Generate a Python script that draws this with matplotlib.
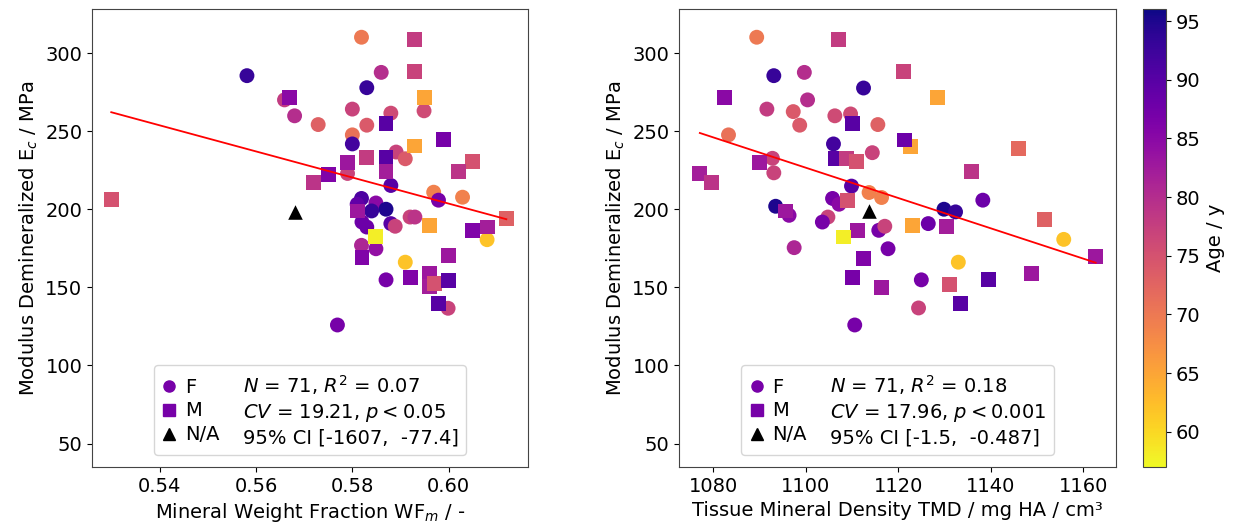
import numpy as np
import matplotlib
matplotlib.use('Agg')
import matplotlib.pyplot as plt
from matplotlib.lines import Line2D

# ---- left panel: mineral weight fraction
wf = [0.5581, 0.5659, 0.5669, 0.5680, 0.5729, 0.5750, 0.5720, 0.5299, 0.5680, 0.5819,
      0.5930, 0.5860, 0.5930, 0.5830, 0.5950, 0.5800, 0.5880, 0.5949, 0.5830, 0.5870,
      0.5800, 0.5800, 0.5990, 0.5930, 0.5830, 0.5870, 0.5891, 0.5910, 0.5790, 0.6050,
      0.6020, 0.5790, 0.5870, 0.5880, 0.5969, 0.6029, 0.5979, 0.6120, 0.5819, 0.5810,
      0.5849, 0.5870, 0.5840, 0.5810, 0.5920, 0.5930, 0.5960, 0.6050, 0.6080, 0.6080,
      0.5820, 0.5830, 0.5880, 0.5889, 0.5849, 0.5819, 0.5820, 0.5849, 0.5910, 0.5870,
      0.5920, 0.5960, 0.5960, 0.5971, 0.5999, 0.5999, 0.5979, 0.5999, 0.5769]
e_wf = [285.5, 270.0, 271.8, 259.8, 254.2, 222.3, 216.9, 206.2, 198.3, 310.1,
        308.6, 287.6, 288.0, 277.8, 271.3, 264.1, 261.5, 263.0, 253.8, 254.6,
        247.6, 241.8, 244.8, 240.5, 233.2, 233.0, 236.6, 232.3, 229.9, 230.6,
        224.4, 222.9, 224.0, 215.2, 210.9, 207.7, 205.8, 194.0, 206.9, 203.2,
        204.0, 200.0, 198.9, 198.9, 195.0, 195.0, 189.7, 186.5, 188.6, 180.5,
        191.8, 188.6, 190.8, 189.1, 182.6, 176.9, 169.0, 174.7, 166.1, 154.8,
        156.1, 159.1, 150.5, 152.2, 154.2, 170.2, 139.4, 136.6, 125.9]
age_wf = [93, 78, 85, 80, 73, 86, 79, 75, np.nan, 70,
          78, 80, 77, 93, 65, 77, 76, 76, 74, 90,
          71, 92, 87, 65, 78, 90, 77, 74, 83, 75,
          79, 77, 82, 90, 69, 69, 87, 73, 91, 89,
          85, 95, 93, 83, 77, 79, 65, 86, 82, 62,
          88, 88, 90, 77, 58, 81, 86, 84, 62, 87,
          86, 83, 82, 75, 90, 83, 90, 77, 87]
sex_wf = list('CCSCCSSSTC' 'SCSCSCCCCS' 'CCSSSSCCSS' 'SCSCCCCSCC'
              'CCCSCCSSSC' 'CCCCSCSCCC' 'SSSSSSSCC')

# ---- right panel: tissue mineral density
tmd = [1089.4, 1107.0, 1093.1, 1099.7, 1112.5, 1121.1, 1082.5, 1091.6, 1100.4, 1097.3,
       1098.7, 1106.3, 1109.7, 1110.1, 1115.6, 1083.3, 1106.0, 1122.6, 1121.4, 1090.0,
       1092.8, 1093.1, 1106.5, 1108.9, 1111.0, 1114.4, 1077.1, 1079.7, 1109.9, 1113.7,
       1116.4, 1105.8, 1107.2, 1109.0, 1113.7, 1093.5, 1095.7, 1096.4, 1104.8, 1103.6,
       1111.2, 1115.8, 1117.1, 1108.1, 1123.1, 1097.5, 1117.8, 1112.4, 1110.2, 1116.4,
       1110.6, 1128.5, 1146.0, 1135.9, 1138.3, 1129.9, 1132.4, 1130.5, 1126.5, 1151.6,
       1155.8, 1162.7, 1133.0, 1125.0, 1131.0, 1139.5, 1148.9, 1124.4, 1133.5]
e_tmd = [310.1, 308.6, 285.5, 287.6, 277.6, 287.9, 271.8, 264.1, 270.0, 262.5,
         253.8, 259.8, 261.0, 254.6, 254.2, 247.6, 241.8, 240.0, 244.3, 229.9,
         232.6, 223.3, 232.6, 232.6, 230.4, 236.2, 222.9, 216.9, 214.8, 210.7,
         207.5, 206.9, 203.2, 205.8, 198.7, 201.9, 198.9, 196.1, 195.0, 191.8,
         186.1, 186.5, 189.1, 182.2, 189.3, 175.4, 174.7, 168.7, 156.1, 149.7,
         125.9, 271.3, 238.6, 224.4, 205.8, 200.0, 198.3, 189.1, 190.8, 193.6,
         180.7, 169.8, 166.1, 154.8, 151.8, 154.9, 158.7, 136.8, 139.4]
age_tmd = [70, 78, 93, 80, 93, 77, 85, 78, 80, 74,
           74, 76, 76, 90, 73, 71, 92, 65, 88, 83,
           77, 77, 90, 78, 75, 77, 82, 79, 90, 69,
           69, 87, 85, 75, np.nan, 95, 83, 85, 77, 87,
           83, 87, 77, 58, 65, 81, 87, 86, 87, 83,
           87, 65, 72, 79, 88, 95, 93, 82, 88, 73,
           62, 83, 62, 87, 75, 90, 83, 77, 90]
sex_tmd = list('CSCCCSSCCC' 'CCCSCCCSSS' 'CCSSSCSSCC' 'CCCSTCSCCC'
               'SCCSSCCSSS' 'CSSSCCCSCS' 'CSCCSSSCS')

# regression lines (slope, intercept)
fit_wf = (-834.3, 704.2)
fit_tmd = (-0.970, 1293.6)

stats_wf = ['$N$ = 71, $R^2$ = 0.07', '$CV$ = 19.21, $p < 0.05$', '95% CI [-1607,  -77.4]']
stats_tmd = ['$N$ = 71, $R^2$ = 0.18', '$CV$ = 17.96, $p < 0.001$', '95% CI [-1.5,  -0.487]']

FS = 14
VMIN, VMAX = 57, 96
CMAP = 'plasma_r'


def panel(ax, x, e, age, sex, fit, stats, xlabel, xlim):
    x = np.array(x)
    e = np.array(e)
    age = np.array(age, dtype=float)
    sex = np.array(sex)
    sc = None
    for s, m in [('C', 'o'), ('S', 's')]:
        k = sex == s
        sc = ax.scatter(x[k], e[k], c=age[k], cmap=CMAP, vmin=VMIN, vmax=VMAX,
                        marker=m, s=115, linewidths=0, zorder=2)
    k = sex == 'T'
    ax.scatter(x[k], e[k], c='k', marker='^', s=110, linewidths=0, zorder=2)
    xx = np.array([x.min(), x.max()])
    ax.plot(xx, fit[0] * xx + fit[1], color='red', lw=1.3, zorder=3)

    ax.set_xlim(*xlim)
    ax.set_ylim(35, 328)
    ax.set_yticks([50, 100, 150, 200, 250, 300])
    ax.set_xlabel(xlabel, fontsize=FS)
    ax.set_ylabel('Modulus Demineralized E$_c$ / MPa', fontsize=FS)
    ax.tick_params(labelsize=FS)
    for sp in ax.spines.values():
        sp.set_color('#444444')

    purple = plt.get_cmap(CMAP)((87 - VMIN) / (VMAX - VMIN))
    blank = Line2D([], [], linestyle='none')
    handles = [Line2D([], [], linestyle='none', marker='o', color=purple, markersize=8),
               Line2D([], [], linestyle='none', marker='s', color=purple, markersize=8),
               Line2D([], [], linestyle='none', marker='^', color='k', markersize=8),
               blank, blank, blank]
    labels = ['F', 'M', 'N/A'] + stats
    ax.legend(handles, labels, ncol=2, loc='lower center', fontsize=FS,
              handlelength=0.8, handletextpad=0.4, columnspacing=0.0,
              labelspacing=0.25, borderaxespad=0.6)
    return sc


fig = plt.figure(figsize=(12.4, 5.3), dpi=100)
ax1 = fig.add_axes([0.0742, 0.1189, 0.3516, 0.8636])
ax2 = fig.add_axes([0.5476, 0.1189, 0.3524, 0.8636])
cax = fig.add_axes([0.9218, 0.1189, 0.0185, 0.8636])

panel(ax1, wf, e_wf, age_wf, sex_wf, fit_wf, stats_wf,
      'Mineral Weight Fraction WF$_m$ / -', (0.5259, 0.6165))
ax1.set_xticks([0.54, 0.56, 0.58, 0.60])
sc = panel(ax2, tmd, e_tmd, age_tmd, sex_tmd, fit_tmd, stats_tmd,
           'Tissue Mineral Density TMD / mg HA / cm³', (1072.6, 1167.1))
ax2.set_xticks([1080, 1100, 1120, 1140, 1160])

cb = fig.colorbar(sc, cax=cax)
cb.set_ticks([60, 65, 70, 75, 80, 85, 90, 95])
cb.ax.tick_params(labelsize=FS)
cb.set_label('Age / y', fontsize=FS)
cb.outline.set_edgecolor('#444444')

fig.savefig('out.png', dpi=100)
